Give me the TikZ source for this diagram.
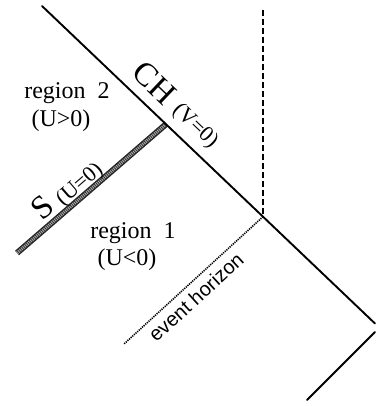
\documentclass[tikz,border=0pt]{standalone}
\usepackage{fontspec}
\setmainfont{Liberation Serif}
\newfontfamily\ehfont{Liberation Sans}
\begin{document}
\begin{tikzpicture}[x=1pt,y=-1pt,
  bigline/.style={line width=1.9pt, line cap=round},
  dashline/.style={line width=1.9pt, dash pattern=on 6pt off 3pt},
  dotline/.style={line width=1.6pt, dash pattern=on 1.2pt off 1pt},
  sline/.style={line width=6pt, draw=black!85},
  sfill/.style={line width=3.2pt, draw=black!35, dash pattern=on 1pt off 1pt},
  reglabel/.style={font=\fontsize{24}{24}\selectfont, inner sep=0pt},
  biglabel/.style={font=\fontsize{33}{33}\selectfont, inner sep=0pt},
  smalllabel/.style={font=\fontsize{22}{22}\selectfont, inner sep=0pt},
  ehlabel/.style={font=\ehfont\fontsize{20}{20}\selectfont, inner sep=0pt}]
\useasboundingbox (0,0) rectangle (375,406);
% coordinates
\coordinate (chtop) at (42,6);
\coordinate (chbot) at (375,323.5);
\coordinate (J) at (263,216.7);
\coordinate (dtop) at (263,10);
\coordinate (ehend) at (124,344);
\coordinate (s1) at (17,253);
\coordinate (s2) at (166,124.2);
\coordinate (b1) at (375,332);
\coordinate (b2) at (307,400);
% lines
\draw[sline] (s1) -- (s2);
\draw[sfill] (s1) -- (s2);
\draw[bigline] (chtop) -- (chbot);
\draw[dashline] (dtop) -- (J);
\draw[dotline] (J) -- (ehend);
\draw[bigline] (b1) -- (b2);
% labels
\node[reglabel] (r2) at (67,93) {region~~2};
\node[reglabel] (r2u) at (61,121) {(U>0)};
\node[reglabel] (r1) at (133,233) {region~~1};
\node[reglabel] (r1u) at (127,260) {(U<0)};
\node[biglabel, rotate=-43.6] (ch) at (155,83) {CH};
\node[smalllabel, rotate=-43.6] (v0) at (195,126) {(V=0)};
\node[biglabel, rotate=41] (S) at (42,207) {S};
\node[smalllabel, rotate=41] (u0) at (80,185) {(U=0)};
\node[ehlabel, rotate=42.4] (eh) at (196,297) {event horizon};
\end{tikzpicture}
\end{document}
